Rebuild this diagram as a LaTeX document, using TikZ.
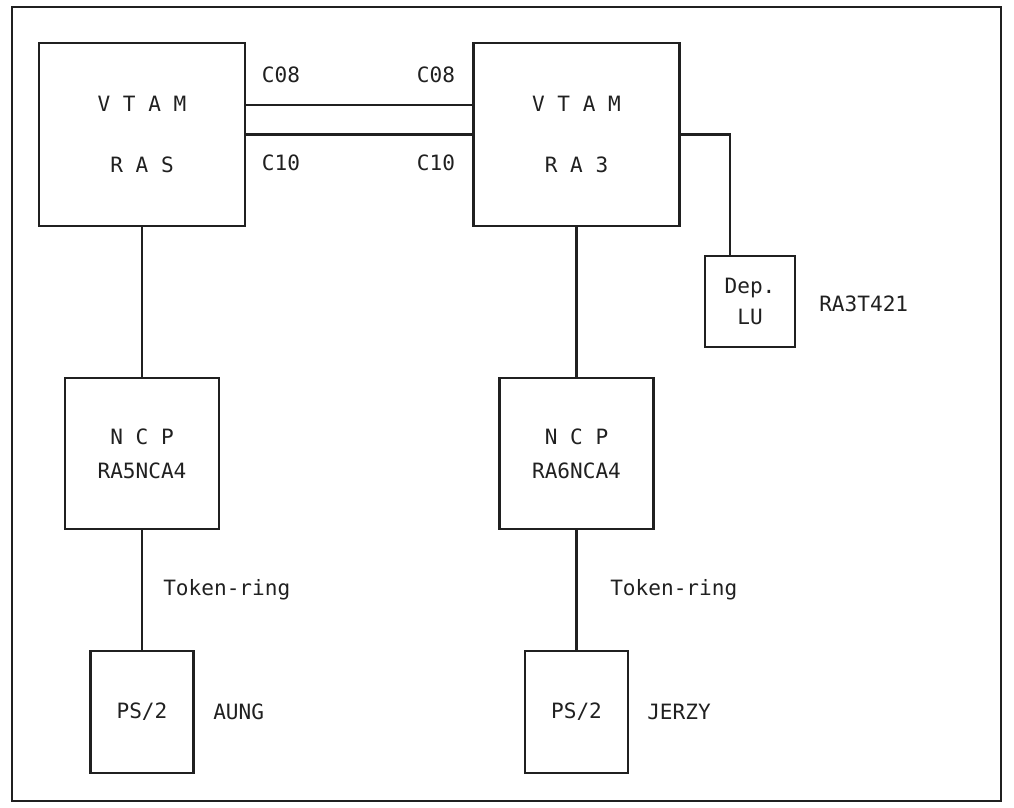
\documentclass[tikz,border=0pt]{standalone}
\usepackage{fontspec}
\setmonofont{DejaVu Sans Mono}
\usepackage{tikz}
\usetikzlibrary{positioning}
\definecolor{ink}{HTML}{202020}

\begin{document}
\begin{tikzpicture}[x=0.025cm,y=-0.025cm,
  font=\ttfamily\fontsize{15}{24}\selectfont,
  unit/.style={draw=ink,line width=1.5pt,inner sep=0pt,align=center,text=ink},
  host/.style={unit,minimum width=5.15cm,minimum height=4.575cm},
  ncpbox/.style={unit,minimum width=3.85cm,minimum height=3.775cm},
  lubox/.style={unit,minimum width=2.25cm,minimum height=2.275cm},
  psbox/.style={unit,minimum width=2.575cm,minimum height=3.05cm},
  link/.style={draw=ink,line width=1.5pt},
  tag/.style={inner sep=0pt,text=ink},
  frame/.style={draw=ink,line width=1.6pt}
]
  \useasboundingbox (0,0) rectangle (1014,808);
  \draw[frame] (12,7) rectangle (1001,801);

  % hosts
  \node[host] (ras) at (142,134.5) {V T A M\\[20pt]R A S};
  \node[host] (ra3) at (576.5,134.5) {V T A M\\[20pt]R A 3};
  \node[lubox] (deplu) at (750,301.5) {Dep.\\[-2pt]LU};

  % controllers and workstations
  \node[ncpbox] (ncp5) at (142,453.5) {N C P\\RA5NCA4};
  \node[ncpbox] (ncp6) at (576.5,453.5) {N C P\\RA6NCA4};
  \node[psbox] (aung) at (142,712) {PS/2};
  \node[psbox] (jerzy) at (576.5,712) {PS/2};

  \node[tag] (c08a) at (281,75) {C08};
  \node[tag] (c08b) at (436,75) {C08};
  \node[tag] (c10a) at (281,163) {C10};
  \node[tag] (c10b) at (436,163) {C10};
  \node[tag,anchor=west] (lname) at (819,304) {RA3T421};
  \node[tag,anchor=west] (trl) at (163,590) {Token-ring};
  \node[tag,anchor=west] (trr) at (610,590) {Token-ring};
  \node[tag,anchor=west] (aname) at (213,712) {AUNG};
  \node[tag,anchor=west] (jname) at (647,712) {JERZY};

  \draw[link] ([yshift=0.74cm]ras.east) -- ([yshift=0.74cm]ra3.west);
  \draw[link] (ras.east) -- (ra3.west);
  \draw[link] (ra3.east) -| ([xshift=-0.5cm]deplu.north);
  \draw[link] (ras.south) -- (ncp5.north);
  \draw[link] (ra3.south) -- (ncp6.north);
  \draw[link] (ncp5.south) -- (aung.north);
  \draw[link] (ncp6.south) -- (jerzy.north);
\end{tikzpicture}
\end{document}
